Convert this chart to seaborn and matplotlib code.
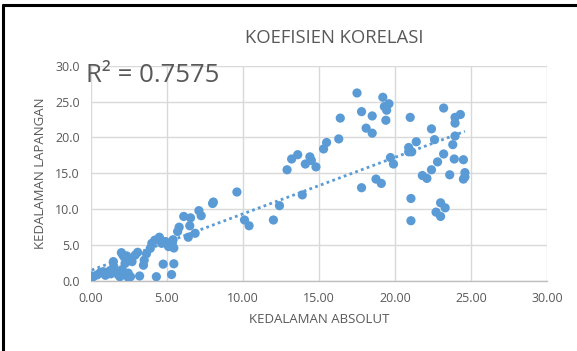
"""
Scatter of KEDALAMAN ABSOLUT vs KEDALAMAN LAPANGAN with a linear trendline.
"""

import numpy as np
import pandas as pd
import matplotlib
matplotlib.use('Agg')
import matplotlib.pyplot as plt
from matplotlib.lines import Line2D
import seaborn as sns

# values
kedalaman_absolut = [
    0.05, 0.15, 0.4, 0.6, 0.8, 0.95, 1.25, 1.3, 1.47, 1.5, 1.7, 1.8, 1.9,
    2.0, 2.1, 2.35, 2.24, 2.45, 2.7, 2.05, 2.45, 2.45, 2.6, 2.2,
    2.9, 3.07, 3.2, 3.45, 3.5, 3.65, 3.9, 4.0, 4.2, 4.5, 4.65, 4.9, 5.1,
    4.75, 4.3, 5.45, 5.3, 5.4, 5.35, 5.45, 5.7, 5.8, 6.1, 6.55, 6.5,
    6.85, 6.4, 7.1, 7.25, 8.0, 8.05, 9.6,
    10.1, 10.4, 12.0, 12.4, 13.9, 12.9, 13.2, 13.6, 14.1, 14.4, 14.5, 14.8,
    15.3, 15.5, 16.3, 16.4, 17.5, 17.8, 17.8, 18.1, 18.5, 18.5, 18.75, 19.1,
    19.2, 19.3, 19.45, 19.6, 19.4, 19.7, 19.9,
    21.0, 20.9, 20.9, 21.1, 21.4, 21.05, 21.05, 21.8, 22.1, 22.4, 22.4,
    22.6, 22.8, 23.2, 23.2, 23.0, 23.3, 22.7, 23.0, 23.6, 23.9, 23.8,
    23.95, 23.95, 23.95, 24.3, 24.5, 24.6, 24.5, 24.6,
]
kedalaman_lapangan = [
    0.7, 0.6, 0.85, 1.15, 1.3, 0.8, 1.45, 1.0, 2.7, 2.0, 1.3, 0.85, 0.6,
    3.95, 3.6, 3.5, 2.45, 2.9, 2.7, 1.6, 1.1, 0.5, 0.6, 0.9,
    3.6, 4.0, 0.7, 2.2, 2.9, 3.8, 4.55, 5.25, 5.7, 6.1, 5.25, 5.5, 4.8,
    2.35, 0.6, 2.4, 0.9, 5.75, 5.3, 4.6, 6.9, 7.5, 9.0, 8.8, 7.7,
    6.65, 6.1, 9.8, 9.1, 10.8, 11.0, 12.4,
    8.5, 7.7, 8.5, 10.5, 12.0, 15.5, 17.0, 17.6, 16.3, 17.3, 16.8, 15.9,
    18.4, 19.3, 19.8, 22.7, 26.2, 23.6, 13.0, 21.3, 20.6, 23.0, 14.2, 13.6,
    25.6, 24.3, 23.8, 24.7, 22.4, 17.2, 16.3,
    22.8, 18.6, 18.0, 18.0, 19.4, 11.5, 8.4, 14.7, 14.3, 15.5, 21.2,
    19.7, 16.6, 17.7, 24.1, 10.9, 10.2, 9.6, 9.0, 14.8, 17.0, 19.0,
    20.2, 22.0, 22.8, 23.2, 16.9, 15.1, 14.2, 14.5,
]

x_ticks = [0, 5, 10, 15, 20, 25, 30]
y_ticks = [0, 5, 10, 15, 20, 25, 30]

title = "KOEFISIEN KORELASI"
x_label = "KEDALAMAN ABSOLUT"
y_label = "KEDALAMAN LAPANGAN"
r2_text = "R² = 0.7575"

BLUE = '#5B9BD5'
GRAY_TEXT = '#595959'

df = pd.DataFrame({'absolut': kedalaman_absolut, 'lapangan': kedalaman_lapangan})

sns.set_style('white')
plt.rcParams['font.family'] = ['Open Sans', 'DejaVu Sans']

fig = plt.figure(figsize=(5.77, 3.51), dpi=100)
ax = fig.add_axes([0.1577, 0.1994, 0.7903, 0.6134])

sns.scatterplot(data=df, x='absolut', y='lapangan', ax=ax, color=BLUE,
                s=44, edgecolor='none', zorder=3)
sns.regplot(data=df, x='absolut', y='lapangan', ax=ax, scatter=False, ci=None,
            truncate=True, color=BLUE,
            line_kws={'linestyle': (0, (1, 1.2)), 'linewidth': 2.0, 'zorder': 4})

ax.set_xlim(0, 30)
ax.set_ylim(0, 30)
ax.set_xticks(x_ticks)
ax.set_yticks(y_ticks)
ax.set_xticklabels([f'{v:.2f}' for v in x_ticks])
ax.set_yticklabels([f'{v:.1f}' for v in y_ticks])
ax.tick_params(axis='both', length=0, labelsize=9, labelcolor=GRAY_TEXT, pad=8)

ax.grid(True, color='#D9D9D9', linewidth=1.0)
ax.set_axisbelow(True)
for side in ['top', 'right', 'left']:
    ax.spines[side].set_visible(False)
ax.spines['bottom'].set_color('#BFBFBF')
ax.spines['bottom'].set_linewidth(1.0)

ax.set_xlabel(x_label, fontsize=9.5, color=GRAY_TEXT, labelpad=6)
ax.set_ylabel(y_label, fontsize=9.5, color=GRAY_TEXT, labelpad=6)

fig.text(0.579, 0.893, title, ha='center', va='center', fontsize=13.3, color=GRAY_TEXT)
ax.text(-0.3, 30.4, r2_text, ha='left', va='top', fontsize=18.5, color=GRAY_TEXT, zorder=5)

# black frame on the left and top edge, as in the cropped screenshot
fig.add_artist(Line2D([0.005, 0.005], [0.0, 0.987], color='black', linewidth=2.2,
                      transform=fig.transFigure))
fig.add_artist(Line2D([0.005, 1.0], [0.987, 0.987], color='black', linewidth=2.2,
                      transform=fig.transFigure))

fig.savefig('out.png', dpi=100)
plt.close(fig)
